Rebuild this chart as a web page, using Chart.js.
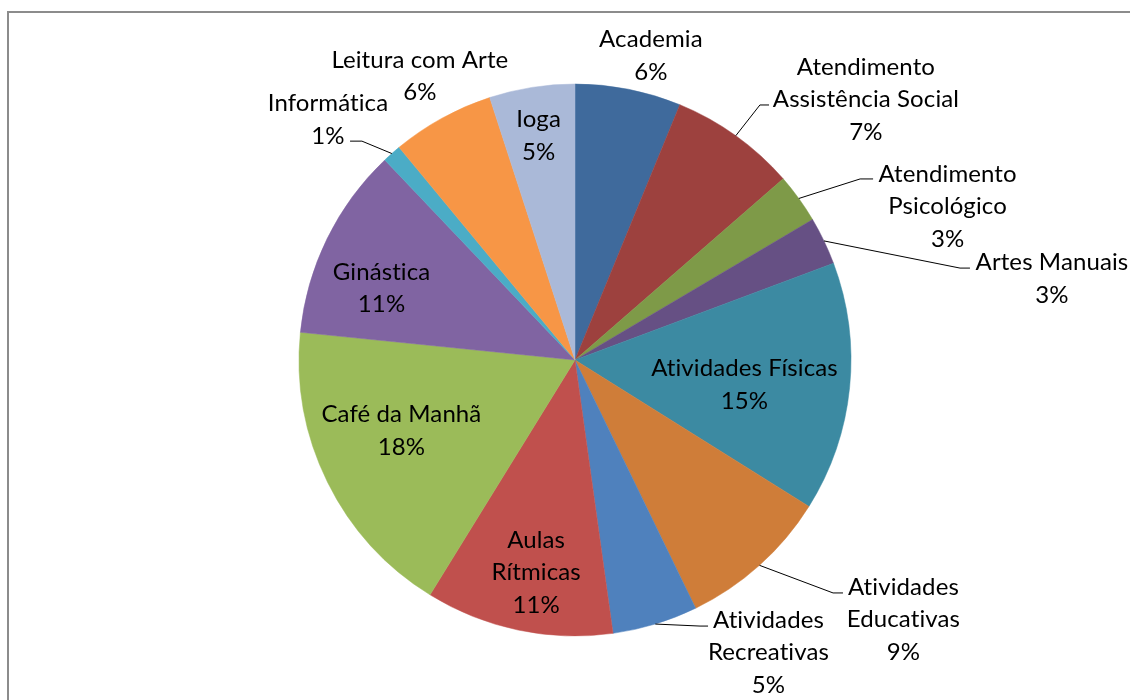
<!DOCTYPE html>
<html>
<head>
<meta charset="utf-8">
<script src="https://cdn.jsdelivr.net/npm/chart.js@4.4.0/dist/chart.umd.min.js"></script>
<style>
  html, body { margin: 0; padding: 0; background: #ffffff; }
  canvas { display: block; }
</style>
</head>
<body>
<canvas id="c" width="1130" height="700"></canvas>
<script>
// ---- data ----
const categories = [
  "Academia", "Atendimento Assistência Social", "Atendimento Psicológico", "Artes Manuais",
  "Atividades Físicas", "Atividades Educativas", "Atividades Recreativas", "Aulas Rítmicas",
  "Café da Manhã", "Ginástica", "Informática", "Leitura com Arte", "Ioga"
];
const values = [6.2, 7.4, 2.9, 2.8, 14.6, 8.9, 5.0, 11.0, 17.8, 11.3, 1.1, 6.0, 5.0];
const labelLines = [
  ["Academia"], ["Atendimento", "Assistência Social"], ["Atendimento", "Psicológico"], ["Artes Manuais"],
  ["Atividades Físicas"], ["Atividades", "Educativas"], ["Atividades", "Recreativas"], ["Aulas", "Rítmicas"],
  ["Café da Manhã"], ["Ginástica"], ["Informática"], ["Leitura com Arte"], ["Ioga"]
];
const colors = [
  "#3f6a9c", "#9d413e", "#7e9a48", "#665084", "#3c8aa2", "#cf7d39",
  "#4f81bd", "#c0504d", "#9bbb59", "#8064a2", "#4bacc6", "#f79646", "#aab9d8"
];

// label placement, in units of the pie radius, relative to the pie centre
// [centre x of text, first baseline y]
const labelAnchor = [
  [0.275, -1.134], [1.054, -1.033], [1.350, -0.645], [1.728, -0.326],
  [0.614, 0.058], [1.190, 0.851], [0.701, 0.971], [-0.141, 0.681],
  [-0.629, 0.225], [-0.701, -0.290], [-0.895, -0.902], [-0.562, -1.058], [-0.132, -0.844]
];
// leader lines: [elbow, end] in radius units, null = no leader
const leaders = [
  null, [[0.670, -0.924], [0.703, -0.924]], [[1.033, -0.656], [1.080, -0.656]], [[1.395, -0.333], [1.431, -0.333]],
  null, [[0.935, 0.844], [0.971, 0.844]], [[0.453, 0.964], [0.482, 0.964]], null,
  null, null, [[-0.772, -0.793], [-0.815, -0.793]], null, null
];

const FONT_FAMILY = "Lato, 'Open Sans', sans-serif";
const FONT_SIZE = 24;
const LINE_H = 32.5;

const frame = {
  id: 'frame',
  beforeDraw(chart) {
    const ctx = chart.ctx;
    ctx.save();
    ctx.fillStyle = '#ffffff';
    ctx.fillRect(0, 0, chart.width, chart.height);
    ctx.strokeStyle = '#8c8c8c';
    ctx.lineWidth = 2;
    ctx.strokeRect(8, 12, 1300, 900);
    ctx.restore();
  }
};

const pieLabels = {
  id: 'pieLabels',
  afterDatasetsDraw(chart) {
    const ctx = chart.ctx;
    const meta = chart.getDatasetMeta(0);
    const data = chart.data.datasets[0].data;
    const total = data.reduce((a, b) => a + b, 0);
    ctx.save();
    meta.data.forEach((arc, i) => {
      const p = arc.getProps(['x', 'y', 'startAngle', 'endAngle', 'outerRadius'], true);
      const R = p.outerRadius;
      const cx = p.x, cy = p.y;
      // leader
      if (leaders[i]) {
        const mid = (p.startAngle + p.endAngle) / 2;
        const sx = cx + Math.cos(mid) * R;
        const sy = cy + Math.sin(mid) * R;
        ctx.beginPath();
        ctx.moveTo(sx, sy);
        ctx.lineTo(cx + leaders[i][0][0] * R, cy + leaders[i][0][1] * R);
        ctx.lineTo(cx + leaders[i][1][0] * R, cy + leaders[i][1][1] * R);
        ctx.strokeStyle = '#000000';
        ctx.lineWidth = 1;
        ctx.stroke();
      }
      const pct = Math.round(data[i] / total * 100) + '%';
      const lines = labelLines[i].concat([pct]);
      const tx = cx + labelAnchor[i][0] * R;
      const ty = cy + labelAnchor[i][1] * R;
      ctx.font = FONT_SIZE + 'px ' + FONT_FAMILY;
      if ('letterSpacing' in ctx) ctx.letterSpacing = '0.1px';
      ctx.fillStyle = '#000000';
      ctx.textAlign = 'center';
      ctx.textBaseline = 'alphabetic';
      lines.forEach((ln, k) => ctx.fillText(ln, tx, ty + k * LINE_H));
    });
    ctx.restore();
  }
};

new Chart(document.getElementById('c'), {
  type: 'pie',
  data: {
    labels: categories,
    datasets: [{
      data: values,
      backgroundColor: colors,
      borderColor: colors,
      borderWidth: 0.5,
      hoverOffset: 0
    }]
  },
  options: {
    responsive: false,
    animation: false,
    radius: 276,
    layout: { padding: { left: 20, top: 20, right: 0, bottom: 0 } },
    plugins: { legend: { display: false }, tooltip: { enabled: false } },
    events: []
  },
  plugins: [frame, pieLabels]
});
</script>
</body>
</html>
